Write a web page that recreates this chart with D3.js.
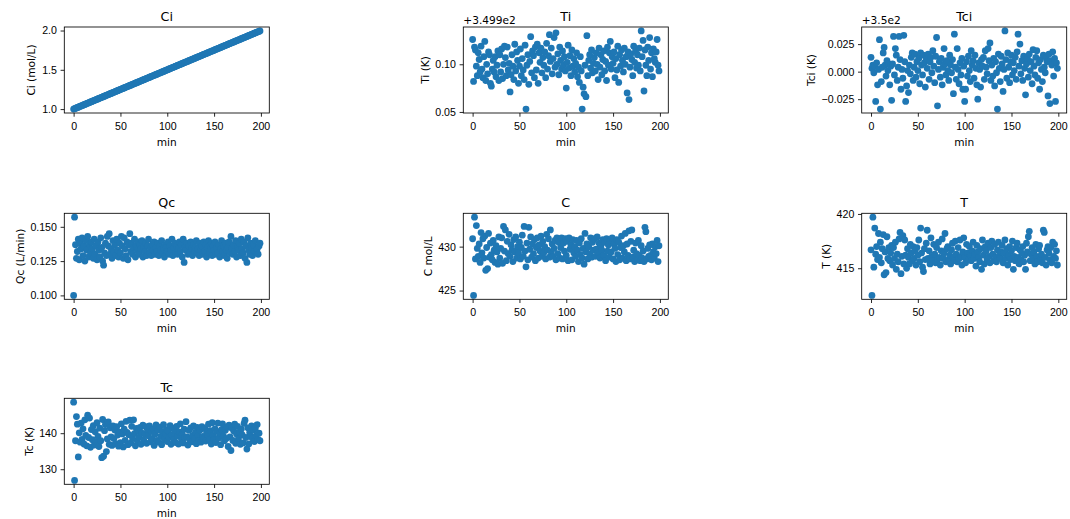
<!DOCTYPE html>
<meta charset="utf-8">
<style>
body { margin: 0; background: #fff; }
svg { font-family: "DejaVu Sans", sans-serif; }
.axis text { font-size: 10.6px; fill: #000; }
.axis line { stroke: #000; stroke-width: 0.85; }
.axis path { display: none; }
.spine { fill: none; stroke: #000; stroke-width: 0.85; }
.title { font-size: 12.7px; }
.label { font-size: 10.6px; }
</style>
<body>
<script src="https://cdn.jsdelivr.net/npm/d3@7"></script>
<script>

// ---- data ----
var ciValues = [
  1.000,1.005,1.010,1.015,1.020,1.025,1.030,1.035,1.040,1.045,
  1.050,1.055,1.060,1.065,1.070,1.075,1.080,1.085,1.090,1.095,
  1.100,1.105,1.110,1.115,1.120,1.125,1.130,1.135,1.140,1.145,
  1.150,1.155,1.160,1.165,1.170,1.175,1.180,1.185,1.190,1.195,
  1.200,1.205,1.210,1.215,1.220,1.225,1.230,1.235,1.240,1.245,
  1.250,1.255,1.260,1.265,1.270,1.275,1.280,1.285,1.290,1.295,
  1.300,1.305,1.310,1.315,1.320,1.325,1.330,1.335,1.340,1.345,
  1.350,1.355,1.360,1.365,1.370,1.375,1.380,1.385,1.390,1.395,
  1.400,1.405,1.410,1.415,1.420,1.425,1.430,1.435,1.440,1.445,
  1.450,1.455,1.460,1.465,1.470,1.475,1.480,1.485,1.490,1.495,
  1.500,1.505,1.510,1.515,1.520,1.525,1.530,1.535,1.540,1.545,
  1.550,1.555,1.560,1.565,1.570,1.575,1.580,1.585,1.590,1.595,
  1.600,1.605,1.610,1.615,1.620,1.625,1.630,1.635,1.640,1.645,
  1.650,1.655,1.660,1.665,1.670,1.675,1.680,1.685,1.690,1.695,
  1.700,1.705,1.710,1.715,1.720,1.725,1.730,1.735,1.740,1.745,
  1.750,1.755,1.760,1.765,1.770,1.775,1.780,1.785,1.790,1.795,
  1.800,1.805,1.810,1.815,1.820,1.825,1.830,1.835,1.840,1.845,
  1.850,1.855,1.860,1.865,1.870,1.875,1.880,1.885,1.890,1.895,
  1.900,1.905,1.910,1.915,1.920,1.925,1.930,1.935,1.940,1.945,
  1.950,1.955,1.960,1.965,1.970,1.975,1.980,1.985,1.990,1.995
];

// Ti and Tci are stored relative to the offset shown above their axes
var tiOffsetText = "+3.499e2";
var tiValues = [
  .126,.082,.118,.115,.098,.088,.112,.105,.092,.119,
  .095,.086,.108,.124,.083,.100,.090,.113,.110,.080,
  .077,.095,.104,.092,.108,.087,.099,.114,.083,.110,
  .092,.116,.085,.100,.119,.107,.088,.118,.094,.101,
  .071,.089,.110,.098,.084,.121,.093,.113,.104,.080,
  .098,.116,.088,.106,.094,.084,.120,.053,.099,.110,
  .079,.103,.129,.091,.114,.109,.086,.118,.094,.121,
  .080,.112,.102,.117,.091,.107,.099,.113,.086,.122,
  .095,.109,.131,.103,.117,.090,.106,.128,.097,.133,
  .100,.111,.089,.118,.104,.095,.114,.099,.108,.093,
  .075,.102,.120,.096,.109,.088,.115,.098,.106,.092,
  .101,.112,.087,.097,.081,.108,.093,.053,.076,.069,
  .099,.066,.130,.088,.104,.110,.096,.115,.091,.101,
  .107,.093,.112,.100,.084,.117,.097,.110,.089,.105,
  .114,.093,.103,.083,.118,.099,.112,.124,.095,.108,
  .101,.113,.086,.106,.094,.119,.081,.110,.098,.115,
  .104,.092,.117,.100,.108,.070,.113,.063,.097,.111,
  .105,.088,.119,.102,.114,.096,.110,.099,.117,.093,
  .135,.108,.125,.072,.115,.099,.088,.118,.104,.128,
  .095,.112,.087,.116,.106,.102,.113,.126,.099,.093
];

var tciOffsetText = "+3.5e2";
var tciValues = [
  .013,.003,.006,-.001,.005,-.027,.008,-.012,.002,.029,
  -.034,-.009,.004,.017,.022,.006,-.004,.010,.001,.007,
  -.012,.005,-.026,.007,.032,-.003,.021,.015,-.008,.004,
  .032,.011,-.016,.002,-.006,.033,.009,-.027,-.013,.001,
  -.019,.006,-.002,.013,.017,-.008,.004,.016,-.005,.009,
  .001,.012,-.011,.017,.006,-.003,.015,.008,-.014,.011,
  .003,.016,-.007,.009,.013,-.001,.019,.005,-.010,.014,
  .031,-.031,.002,.009,-.005,.012,-.012,.004,.021,.007,
  -.003,.010,.001,-.008,.015,.006,-.001,.011,-.020,.034,
  .004,-.007,.021,.002,-.011,.008,-.003,.012,-.016,.005,
  -.027,-.016,.009,-.004,.014,.001,-.009,.019,.006,.010,
  -.006,.015,.003,-.012,-.025,.008,.002,-.014,.011,.005,
  .013,-.007,.019,.004,-.002,.021,.010,.026,-.008,.006,
  -.004,.012,-.013,.009,-.001,-.034,.016,.003,-.009,.014,
  .007,-.018,.002,.037,.011,-.006,.017,.004,-.010,.009,
  .015,-.003,.008,.001,.013,-.007,.018,.034,.005,.025,
  -.002,.010,-.008,.014,.003,-.021,.007,.012,-.005,.016,
  .001,.009,-.011,.020,.005,-.003,.013,.019,-.006,.008,
  -.016,.011,.002,-.009,.015,.004,-.001,.013,.009,-.022,
  .016,-.029,.010,.006,.018,-.004,.012,-.027,.008,.003
];

var qcValues = [
  .100,.157,.137,.127,.132,.141,.126,.138,.134,.142,
  .129,.136,.125,.140,.133,.143,.128,.137,.131,.139,
  .134,.127,.141,.130,.136,.126,.139,.133,.128,.142,
  .135,.125,.122,.131,.138,.129,.143,.136,.145,.130,
  .134,.127,.140,.132,.137,.129,.141,.133,.128,.138,
  .131,.143,.136,.127,.142,.134,.129,.139,.126,.137,
  .145,.132,.138,.130,.135,.141,.128,.136,.133,.139,
  .130,.137,.134,.140,.128,.135,.132,.138,.129,.136,
  .141,.131,.134,.129,.137,.133,.139,.130,.135,.132,
  .138,.129,.136,.133,.140,.131,.134,.128,.137,.135,
  .132,.139,.130,.136,.133,.141,.129,.135,.138,.131,
  .136,.130,.134,.139,.132,.137,.128,.141,.124,.135,
  .133,.138,.130,.136,.131,.139,.134,.129,.137,.132,
  .135,.140,.131,.134,.129,.138,.133,.136,.130,.139,
  .132,.137,.128,.135,.140,.131,.134,.138,.129,.136,
  .133,.139,.130,.135,.131,.137,.128,.134,.140,.132,
  .136,.129,.138,.133,.127,.135,.139,.131,.143,.134,
  .130,.137,.132,.140,.128,.135,.133,.138,.129,.141,
  .134,.131,.139,.127,.136,.124,.142,.133,.130,.138,
  .135,.129,.137,.132,.140,.131,.134,.130,.136,.138
];

var cValues = [
  430.9,424.45,433.35,428.6,432.4,429.8,428.9,430.3,428.2,431.6,
  429.3,430.9,428.7,431.2,427.3,429.9,427.5,431.5,428.8,430.4,
  429.1,428.5,430.7,429.6,428.2,430.1,429.4,428.0,431.1,428.7,
  429.8,431.0,428.1,432.3,429.5,431.9,428.4,430.6,429.2,431.4,
  428.9,430.2,429.6,428.3,430.8,429.4,431.1,428.7,430.0,429.3,
  430.5,428.6,429.9,431.3,428.9,432.3,429.5,427.7,430.4,428.5,
  432.2,429.7,431.1,428.8,430.3,429.2,430.8,428.4,429.9,431.0,
  428.7,430.2,429.5,431.2,428.9,430.6,429.3,430.0,428.6,431.4,
  429.6,430.9,428.8,431.9,429.4,430.3,428.9,429.8,430.7,428.5,
  431.0,429.2,430.5,428.7,429.9,431.0,428.6,430.4,429.5,430.9,
  429.0,430.6,428.4,431.0,429.7,430.2,428.5,430.8,429.3,430.0,
  428.9,430.7,429.6,428.3,430.4,429.1,430.9,428.7,429.8,428.0,
  431.5,429.4,430.3,428.6,430.0,429.2,431.0,428.8,430.5,429.6,
  430.9,428.9,429.7,431.1,429.3,430.4,428.7,430.1,429.6,430.8,
  429.0,430.5,428.4,430.9,429.5,430.2,428.8,430.7,429.4,431.0,
  428.6,430.3,429.8,428.3,430.8,429.1,430.5,428.5,429.9,431.2,
  428.7,430.1,429.4,431.5,428.4,430.3,429.0,431.8,428.6,430.6,
  431.9,428.8,429.6,428.3,430.4,429.2,428.5,430.7,429.0,428.4,
  430.1,428.7,429.5,428.3,432.2,431.7,428.6,429.8,428.9,430.2,
  429.0,428.5,430.3,429.4,428.7,430.0,429.2,430.7,428.3,430.1
];

var tValues = [
  416.7,412.5,419.7,415.1,418.7,416.3,417.0,415.8,418.2,416.0,
  417.4,415.5,416.8,418.1,414.4,416.5,414.6,417.9,415.9,416.9,
  415.7,416.4,417.1,415.3,416.9,415.9,417.4,414.9,416.3,415.6,
  417.7,418.3,414.5,416.1,418.0,415.4,417.6,416.2,415.0,416.8,
  416.0,415.4,417.2,416.4,415.7,417.0,415.9,416.6,415.3,416.9,
  416.2,417.6,415.6,418.7,416.4,415.1,414.7,416.8,415.8,417.3,
  418.5,415.9,416.6,415.4,417.8,416.1,415.7,417.2,416.3,415.5,
  416.9,415.8,417.4,416.0,415.3,416.6,417.7,415.9,416.4,418.2,
  415.6,416.8,417.0,415.8,416.2,415.4,416.7,417.3,416.0,415.7,
  417.5,416.3,415.6,416.9,415.9,417.6,416.1,415.3,416.5,417.8,
  416.0,415.5,417.2,416.4,415.8,417.0,416.2,415.7,416.6,417.4,
  415.9,416.3,415.2,417.1,416.5,416.0,415.6,416.8,414.9,417.6,
  416.2,415.4,417.0,416.6,415.8,417.3,416.1,415.5,416.9,417.5,
  416.3,415.7,417.2,416.0,415.6,416.7,417.4,416.2,415.9,416.5,
  417.1,415.5,416.4,417.6,415.9,416.8,415.3,416.2,417.0,415.8,
  416.6,417.5,414.9,416.1,415.7,416.9,417.3,416.0,415.4,416.7,
  415.8,416.4,417.0,415.6,416.2,414.9,417.3,416.5,417.9,418.4,
  415.7,416.3,416.9,415.9,416.5,415.4,417.2,416.1,415.6,416.8,
  417.1,415.8,416.3,415.5,418.5,418.3,416.0,415.3,416.7,417.0,
  416.4,415.8,416.9,415.5,417.4,416.1,417.2,415.9,416.6,415.3
];

var tcValues = [
  148.6,126.9,137.9,144.6,142.5,133.4,140.1,137.5,142.8,138.3,
  141.2,137.0,143.7,139.4,136.5,145.0,138.8,144.2,136.1,141.0,
  138.2,142.1,136.7,140.4,137.6,142.9,139.1,136.3,141.4,137.9,
  133.2,143.8,133.6,140.7,142.4,134.9,138.4,143.1,136.9,141.5,
  139.0,136.6,142.0,138.5,140.9,137.1,141.8,139.5,136.4,140.3,
  137.4,142.6,139.8,136.2,141.1,138.0,143.3,140.2,136.8,139.6,
  143.6,137.3,141.9,138.6,143.7,139.9,136.5,141.3,137.8,140.6,
  138.9,141.6,136.9,140.0,142.2,138.1,139.7,141.8,137.2,140.8,
  139.3,142.0,137.6,140.5,138.4,141.2,136.6,139.8,142.3,138.0,
  140.9,137.5,141.7,139.1,136.8,140.4,142.4,138.3,139.9,141.0,
  137.7,140.6,138.9,142.1,136.9,139.5,141.4,138.2,140.7,137.4,
  141.9,139.2,137.0,140.3,142.6,138.6,139.7,137.3,141.1,138.8,
  143.2,139.0,136.7,140.8,138.1,141.5,137.6,139.4,142.0,138.5,
  140.2,137.1,141.6,139.3,138.0,140.9,137.5,141.8,139.1,138.4,
  141.3,137.8,140.1,139.6,142.5,138.2,140.7,137.0,142.9,139.4,
  138.3,141.2,137.4,140.5,142.8,138.7,139.9,136.8,141.0,142.6,
  139.2,137.9,140.8,138.5,141.7,136.3,142.2,139.0,135.2,141.4,
  138.0,140.6,142.5,137.2,139.8,141.9,138.4,140.3,136.9,141.1,
  139.5,137.3,142.7,143.6,138.8,135.6,141.5,137.0,140.2,139.1,
  142.0,138.6,140.9,137.7,141.3,139.4,142.4,138.2,140.0,137.9
];

// tick labels
var xTicks = [0, 50, 100, 150, 200];
var ciTicks = [1.0, 1.5, 2.0];
var tiTicks = [0.05, 0.10];
var tciTicks = [-0.025, 0.000, 0.025];
var qcTicks = [0.100, 0.125, 0.150];
var cTicks = [425, 430];
var tTicks = [415, 420];
var tcTicks = [130, 140];

// ---- layout ----
var colLeft = [64.3, 463.3, 861.7],
    rowTop = [27, 213.3, 398.3],
    width = 205,
    height = 86;

var minus = function(s) { return s.replace("-", "\u2212"); };

var panels = [
  {title: "Ci",  ylabel: "Ci (mol/L)", values: ciValues,  ticks: ciTicks,  fmt: d3.format(".1f"), row: 0, col: 0},
  {title: "Ti",  ylabel: "Ti (K)",     values: tiValues,  offsetText: tiOffsetText, ticks: tiTicks, fmt: d3.format(".2f"), row: 0, col: 1},
  {title: "Tci", ylabel: "Tci (K)",    values: tciValues, offsetText: tciOffsetText, ticks: tciTicks, fmt: function(d) { return minus(d3.format(".3f")(d)); }, row: 0, col: 2},
  {title: "Qc",  ylabel: "Qc (L/min)", values: qcValues,  ticks: qcTicks,  fmt: d3.format(".3f"), row: 1, col: 0},
  {title: "C",   ylabel: "C mol/L",    values: cValues,   ticks: cTicks,   fmt: d3.format("d"), row: 1, col: 1},
  {title: "T",   ylabel: "T (K)",      values: tValues,   ticks: tTicks,   fmt: d3.format("d"), row: 1, col: 2},
  {title: "Tc",  ylabel: "Tc (K)",     values: tcValues,  ticks: tcTicks,  fmt: d3.format("d"), row: 2, col: 0}
];

var svg = d3.select("body").append("svg")
    .attr("width", 1070)
    .attr("height", 519);

// matplotlib-style 5% margins around the data
function padded(ext) {
  var m = (ext[1] - ext[0]) * 0.05;
  return [ext[0] - m, ext[1] + m];
}

panels.forEach(function(p, k) {
  var minutes = d3.range(p.values.length);
  var left = colLeft[p.col], top = rowTop[p.row];

  var x = d3.scaleLinear().domain(padded(d3.extent(minutes))).range([0, width]);
  var y = d3.scaleLinear().domain(padded(d3.extent(p.values))).range([height, 0]);

  var g = svg.append("g").attr("transform", "translate(" + left + "," + top + ")");

  g.append("clipPath").attr("id", "clip" + k)
    .append("rect").attr("width", width).attr("height", height);

  g.append("g").attr("clip-path", "url(#clip" + k + ")")
    .selectAll("circle")
    .data(p.values)
    .enter().append("circle")
      .attr("cx", function(d, i) { return x(minutes[i]); })
      .attr("cy", function(d) { return y(d); })
      .attr("r", 3.4)
      .attr("fill", "#1f77b4");

  g.append("rect").attr("class", "spine")
    .attr("width", width).attr("height", height);

  g.append("g")
      .attr("class", "axis")
      .attr("transform", "translate(0," + height + ")")
      .call(d3.axisBottom(x).tickValues(xTicks).tickSizeInner(3.7).tickSizeOuter(0).tickPadding(5.3));

  var yAxis = g.append("g")
      .attr("class", "axis")
      .call(d3.axisLeft(y).tickValues(p.ticks).tickFormat(p.fmt)
        .tickSizeInner(3.7).tickSizeOuter(0).tickPadding(3.7));

  var tickLeft = d3.min(yAxis.selectAll("text").nodes(), function(n) { return n.getBBox().x; });

  g.append("text").attr("class", "title")
    .attr("x", width / 2).attr("y", -6.5)
    .attr("text-anchor", "middle")
    .text(p.title);

  g.append("text").attr("class", "label")
    .attr("x", width / 2).attr("y", height + 32.5)
    .attr("text-anchor", "middle")
    .text("min");

  g.append("text").attr("class", "label")
    .attr("transform", "translate(" + (tickLeft - 6.7) + "," + (height / 2) + ") rotate(-90)")
    .attr("text-anchor", "middle")
    .text(p.ylabel);

  if (p.offsetText) {
    g.append("text").attr("class", "label")
      .attr("x", 0).attr("y", -3.5)
      .text(p.offsetText);
  }
});

</script>
</body>
